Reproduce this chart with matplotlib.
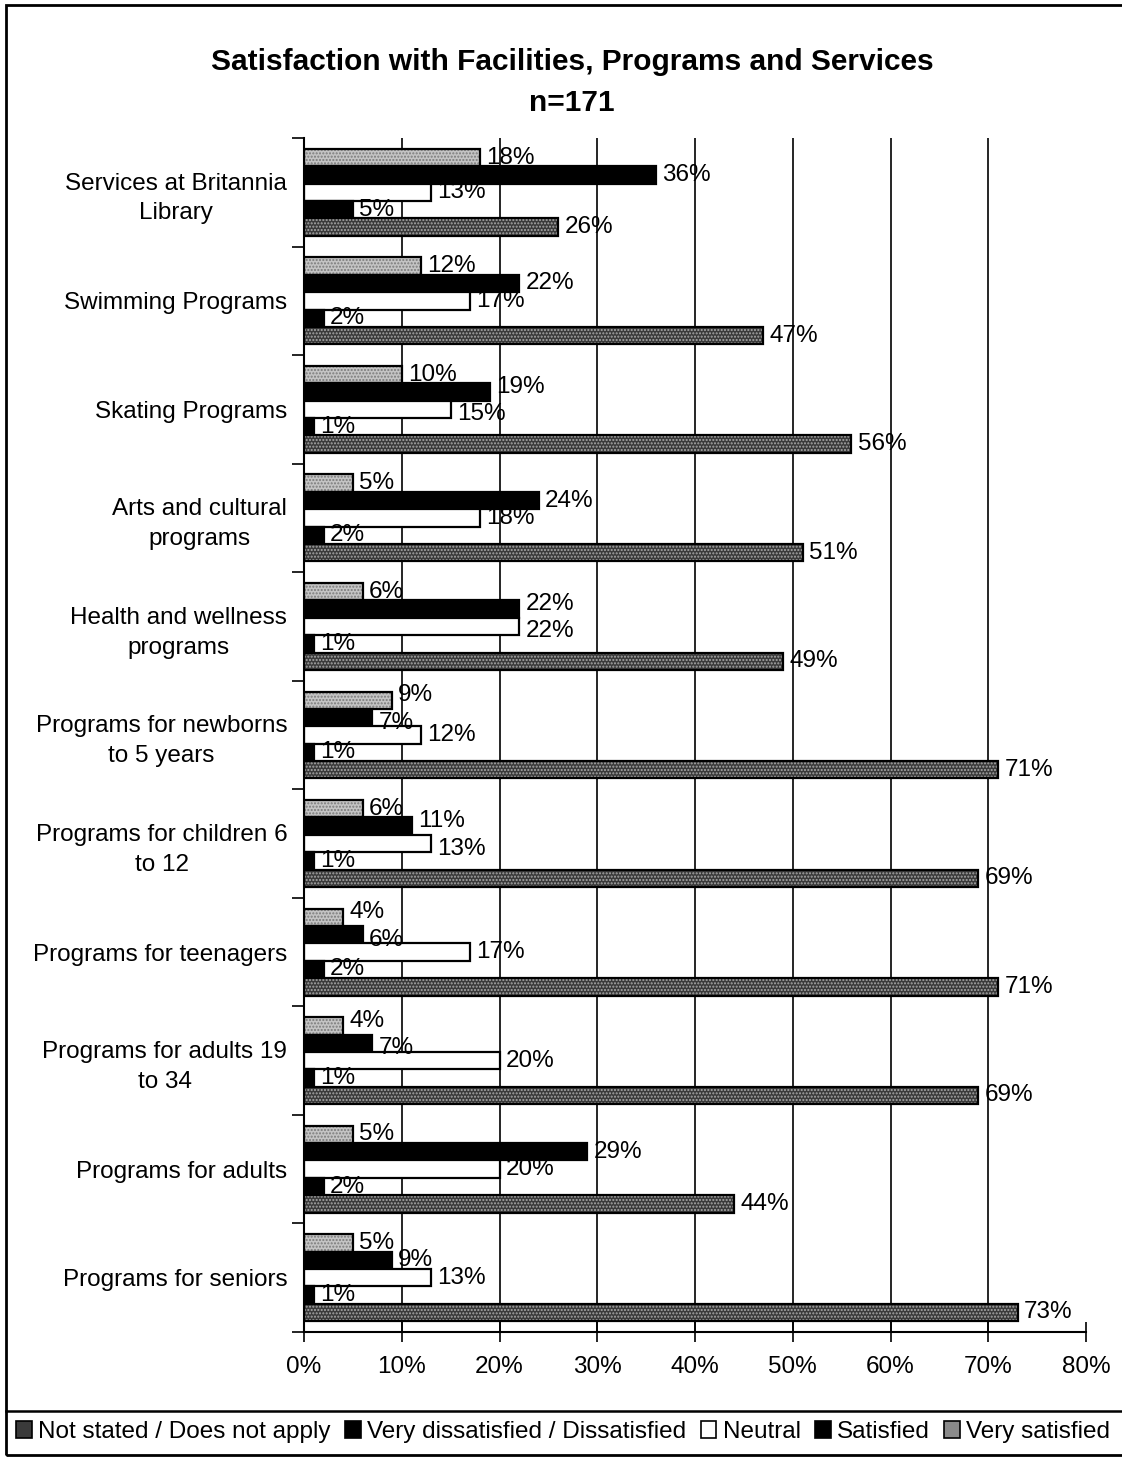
import numpy as np
import matplotlib.pyplot as plt
from matplotlib.patches import Patch, Rectangle
from matplotlib.lines import Line2D

plt.rcParams['font.family'] = ['Liberation Sans', 'DejaVu Sans']

categories = [
    "Services at Britannia\nLibrary",
    "Swimming Programs",
    "Skating Programs",
    "Arts and cultural\nprograms",
    "Health and wellness\nprograms",
    "Programs for newborns\nto 5 years",
    "Programs for children 6\nto 12",
    "Programs for teenagers",
    "Programs for adults 19\nto 34",
    "Programs for adults",
    "Programs for seniors",
]

# bars listed top to bottom inside each group
not_stated = [18, 12, 10, 5, 6, 9, 6, 4, 4, 5, 5]
satisfied = [36, 22, 19, 24, 22, 7, 11, 6, 7, 29, 9]
neutral = [13, 17, 15, 18, 22, 12, 13, 17, 20, 20, 13]
dissatisfied = [5, 2, 1, 2, 1, 1, 1, 2, 1, 2, 1]
very_satisfied = [26, 47, 56, 51, 49, 71, 69, 71, 69, 44, 73]

legend_labels = ["Not stated / Does not apply", "Very dissatisfied / Dissatisfied",
                 "Neutral", "Satisfied", "Very satisfied"]
xticks = [0, 10, 20, 30, 40, 50, 60, 70, 80]

series = [not_stated, satisfied, neutral, dissatisfied, very_satisfied]
# (face, speckle) for each series; None means plain fill
fills = [('#c4c4c4', '#7a7a7a'), ('black', None), ('white', None),
         ('black', None), ('#3a3a3a', '#a8a8a8')]

FS = 17.5
W, H = 1122, 1458
fig = plt.figure(figsize=(W / 100, H / 100), dpi=100)
ax = fig.add_axes([304 / W, 1 - 1332 / H, (1086 - 304) / W, (1332 - 138) / H])

px_per_unit = (1086 - 304) / 80


def label_span(v):
    # rough horizontal extent of a "NN%" label, in axis units
    w = (len(str(v)) * 0.556 + 0.889) * FS * 100 / 72 / px_per_unit
    return v + 0.6, v + 0.6 + w


y = np.arange(len(categories))
bh = 0.16
for i, (vals, (fc, sp)) in enumerate(zip(series, fills)):
    pos = y - 0.4 + bh / 2 + i * bh
    if sp is None:
        ax.barh(pos, vals, height=bh, color=fc, edgecolor='black', linewidth=1.6)
    else:
        ax.barh(pos, vals, height=bh, color=fc, edgecolor=sp, hatch='.....', linewidth=0)
        ax.barh(pos, vals, height=bh, fill=False, edgecolor='black', linewidth=1.6)

# value labels, pushed apart vertically where neighbours would collide
for g in range(len(categories)):
    vals = [s[g] for s in series]
    shift = [0.0] * len(vals)
    for i in range(1, len(vals)):
        a0, a1 = label_span(vals[i - 1])
        b0, b1 = label_span(vals[i])
        if b0 < a1 and a0 < b1:
            shift[i - 1] += 5
            shift[i] -= 5
    for i, v in enumerate(vals):
        p = g - 0.4 + bh / 2 + i * bh
        ax.annotate(f"{v}%", (v, p), xytext=(4.5, shift[i] * 0.72), textcoords='offset points',
                    va='center', ha='left', fontsize=FS)

ax.set_xlim(0, 80)
ax.set_ylim(len(categories) - 0.5, -0.5)

for t in xticks[1:-1]:
    ax.axvline(t, color='black', lw=1.2, zorder=0)

ax.set_xticks(xticks, labels=[f"{t}%" for t in xticks])
ax.tick_params(axis='x', direction='inout', length=14, width=1.2, pad=10, labelsize=FS)

ax.set_yticks(np.arange(len(categories) + 1) - 0.5, labels=[])
ax.set_yticks(y, labels=categories, minor=True)
ax.tick_params(axis='y', which='major', direction='out', length=9, width=1.2)
ax.tick_params(axis='y', which='minor', length=0, pad=12, labelsize=FS)
for lab in ax.get_yticklabels(minor=True):
    lab.set_multialignment('center')
    lab.set_linespacing(1.45)

for s in ['top', 'right']:
    ax.spines[s].set_visible(False)
for s in ['left', 'bottom']:
    ax.spines[s].set_linewidth(1.5)

fig.text(0.51, 1 - 62 / H, "Satisfaction with Facilities, Programs and Services",
         ha='center', va='center', fontsize=21.5, fontweight='bold')
fig.text(0.51, 1 - 103 / H, "n=171", ha='center', va='center', fontsize=21.5, fontweight='bold')

legend_fills = [('#3a3a3a', '#a8a8a8'), ('black', None), ('white', None),
                ('black', None), ('#8a8a8a', '#d8d8d8')]
handles = [Patch(facecolor=fc, edgecolor='black', linewidth=1.2) for fc, _ in legend_fills]
fig.legend(handles, legend_labels, loc='center', bbox_to_anchor=(0.502, 1 - 1432 / H),
           ncol=5, frameon=False, fontsize=17.5, handlelength=0.65, handleheight=0.65,
           handletextpad=0.25, columnspacing=0.6, borderaxespad=0)

# outer frame and the strip holding the legend
fig.patches.append(Rectangle((6 / W, 1 - 1455 / H), 1 - 6 / W + 0.01, (1455 - 5) / H,
                             transform=fig.transFigure, fill=False, edgecolor='black', lw=2))
fig.lines.append(Line2D([6 / W, 1], [1 - 1411 / H] * 2, transform=fig.transFigure,
                        color='black', lw=1.8))

fig.savefig("out.png", dpi=100)
